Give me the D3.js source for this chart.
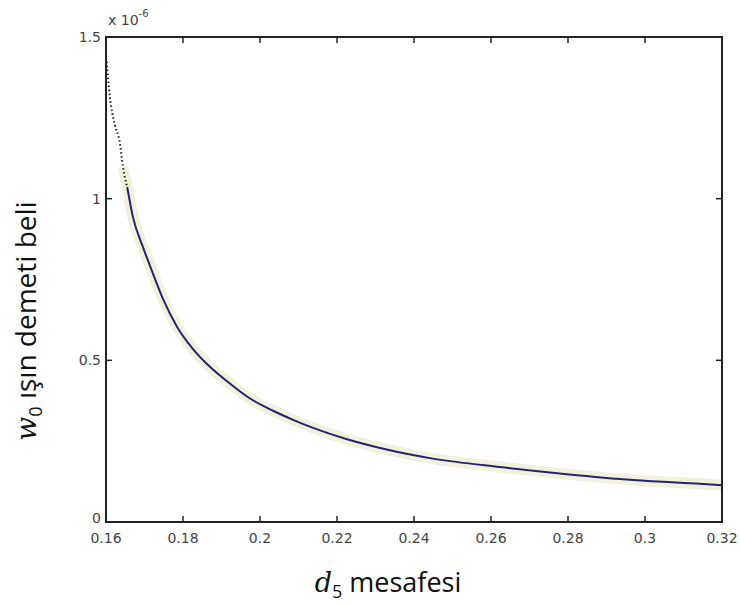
<!DOCTYPE html>
<html>
<head>
<meta charset="utf-8">
<script src="https://cdnjs.cloudflare.com/ajax/libs/d3/7.8.5/d3.min.js"></script>
<style>
  body { margin: 0; background: #fff; }
  svg { display: block; }
</style>
</head>
<body>
<svg id="chart" width="740" height="605"></svg>
<script>
// values, w0 in units of 1e-6
var d5 = [0.1602, 0.1610, 0.1623, 0.1636, 0.1644, 0.1655, 0.1670, 0.1696, 0.1714, 0.1748,
          0.1784, 0.1826, 0.1870, 0.1922, 0.1974, 0.2034, 0.2086, 0.2138, 0.2226, 0.2312,
          0.2397, 0.2449, 0.2623, 0.2797, 0.2969, 0.3143, 0.3200];
var w0 = [1.424, 1.316, 1.228, 1.172, 1.098, 1.036, 0.943, 0.850, 0.793, 0.690,
          0.605, 0.535, 0.480, 0.428, 0.382, 0.344, 0.316, 0.291, 0.256, 0.229,
          0.207, 0.196, 0.170, 0.148, 0.130, 0.118, 0.114];
var dottedUntil = 5; // first points are drawn dotted in the scan

var xTicks = [0.16, 0.18, 0.2, 0.22, 0.24, 0.26, 0.28, 0.3, 0.32];
var yTicks = [0, 0.5, 1, 1.5];

var margin = {left: 106, right: 18, top: 37, bottom: 83};
var width = 740, height = 605;

var svg = d3.select("#chart");

var x = d3.scaleLinear().domain([0.16, 0.32]).range([margin.left, width - margin.right]);
var y = d3.scaleLinear().domain([0, 1.5]).range([height - margin.bottom, margin.top]);

var pts = d5.map(function(d, i) { return [d, w0[i]]; });

var line = d3.line()
    .x(function(d) { return x(d[0]); })
    .y(function(d) { return y(d[1]); })
    .curve(d3.curveMonotoneX);

// faint halo of the scanned trace
svg.append("path")
    .datum(pts.slice(dottedUntil - 1))
    .attr("d", line)
    .attr("fill", "none")
    .attr("stroke", "#d6d6cc")
    .attr("stroke-width", 11)
    .attr("stroke-opacity", 0.45);
svg.append("path")
    .datum(pts.slice(dottedUntil - 1))
    .attr("d", line)
    .attr("fill", "none")
    .attr("stroke", "#f4f2d6")
    .attr("stroke-width", 9);

// dotted head of the curve
svg.append("path")
    .datum(pts.slice(0, dottedUntil + 1))
    .attr("d", line)
    .attr("fill", "none")
    .attr("stroke", "#222")
    .attr("stroke-width", 2)
    .attr("stroke-dasharray", "1.5,2.5");

// main curve
svg.append("path")
    .datum(pts.slice(dottedUntil))
    .attr("d", line)
    .attr("fill", "none")
    .attr("stroke", "#23237a")
    .attr("stroke-width", 2);

// frame
var x0 = x.range()[0], x1 = x.range()[1], y0 = y.range()[0], y1 = y.range()[1];
svg.append("rect")
    .attr("x", x0).attr("y", y1)
    .attr("width", x1 - x0).attr("height", y0 - y1)
    .attr("fill", "none")
    .attr("stroke", "#222")
    .attr("stroke-width", 2);

// inward ticks on all four sides
var tickLen = 6;
var tickG = svg.append("g").attr("stroke", "#222").attr("stroke-width", 1.5);
xTicks.forEach(function(t) {
    tickG.append("line").attr("x1", x(t)).attr("x2", x(t)).attr("y1", y0).attr("y2", y0 - tickLen);
    tickG.append("line").attr("x1", x(t)).attr("x2", x(t)).attr("y1", y1).attr("y2", y1 + tickLen);
});
yTicks.forEach(function(t) {
    tickG.append("line").attr("x1", x0).attr("x2", x0 + tickLen).attr("y1", y(t)).attr("y2", y(t));
    tickG.append("line").attr("x1", x1).attr("x2", x1 - tickLen).attr("y1", y(t)).attr("y2", y(t));
});

var tickFont = "'DejaVu Sans', sans-serif";
svg.append("g").selectAll("text")
    .data(xTicks)
    .join("text")
    .attr("x", function(d) { return x(d); })
    .attr("y", y0 + 21)
    .attr("text-anchor", "middle")
    .attr("font-family", tickFont)
    .attr("font-size", 14)
    .attr("fill", "#444")
    .text(function(d) { return String(d); });

svg.append("g").selectAll("text")
    .data(yTicks)
    .join("text")
    .attr("x", x0 - 5)
    .attr("y", function(d) { return y(d) + 5 - (d === 0 ? 4 : 0); })
    .attr("text-anchor", "end")
    .attr("font-family", tickFont)
    .attr("font-size", 14)
    .attr("fill", "#444")
    .text(function(d) { return String(d); });

// exponent
var ex = svg.append("text")
    .attr("x", x0 + 2).attr("y", 25)
    .attr("font-family", tickFont)
    .attr("font-size", 14)
    .attr("fill", "#444");
ex.append("tspan").text("x 10");
ex.append("tspan").attr("dy", -8).attr("font-size", 10).text("-6");

// axis titles
var labelFont = "'Open Sans', 'Noto Sans', sans-serif";
var xl = svg.append("text")
    .attr("x", 388).attr("y", 592)
    .attr("text-anchor", "middle")
    .attr("font-family", labelFont)
    .attr("font-size", 27)
    .attr("fill", "#111");
xl.append("tspan").attr("font-family", "'DejaVu Serif', serif").attr("font-style", "italic").text("d");
xl.append("tspan").attr("font-size", 18).attr("dy", 6).text("5");
xl.append("tspan").attr("dy", -6).text(" mesafesi");

var yl = svg.append("text")
    .attr("transform", "translate(36,321) rotate(-90)")
    .attr("text-anchor", "middle")
    .attr("font-family", labelFont)
    .attr("font-size", 28)
    .attr("fill", "#111");
yl.append("tspan").attr("font-family", "'DejaVu Serif', serif").attr("font-style", "italic").text("w");
yl.append("tspan").attr("font-size", 18).attr("dy", 6).text("0");
yl.append("tspan").attr("dy", -6).text(" ışın demeti beli");
</script>
</body>
</html>
